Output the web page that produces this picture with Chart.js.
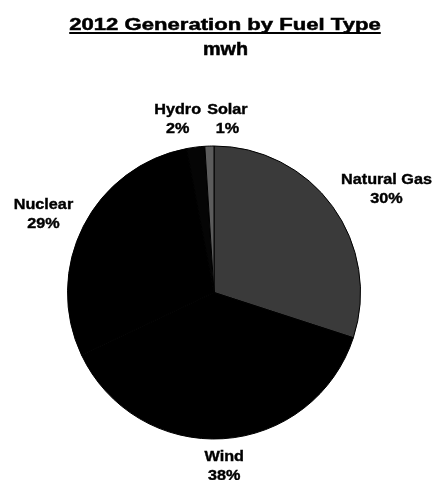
<!DOCTYPE html>
<html>
<head>
<meta charset="utf-8">
<title>2012 Generation by Fuel Type</title>
<script src="https://cdn.jsdelivr.net/npm/chart.js@4"></script>
<style>
    body { margin: 0; background: #fff; }
    canvas { display: block; }
</style>
</head>
<body>
<canvas id="graficoPizza" width="436" height="480"></canvas>
<script>
// ---- DADOS ----
const fontes = ["Natural Gas", "Wind", "Nuclear", "Hydro", "Solar"];
const percentuais = [30, 38, 29, 2, 1];
const cores = ["#3a3a3a", "#000000", "#000000", "#050505", "#5c5c5c"];

// deslocamento de cada rótulo em relação à borda da fatia
const ajusteX = [54, 1, -40, -18, 18];
const ajusteY = [-18, 26, -13, -29, -28];

const titulo = "2012 Generation by Fuel Type";
const subtitulo = "mwh";

// ---- TÍTULO SUBLINHADO ----
const pluginTitulo = {
    id: "tituloSublinhado",
    afterDraw(chart) {
        const ctx = chart.ctx;
        ctx.save();
        ctx.fillStyle = "#000";
        ctx.strokeStyle = "#000";
        ctx.lineWidth = 0.5;
        ctx.textAlign = "center";
        ctx.textBaseline = "alphabetic";

        ctx.save();
        ctx.translate(225, 30);
        ctx.scale(1.3, 1);
        ctx.font = "bold 17px 'Liberation Sans', Arial, sans-serif";
        ctx.fillText(titulo, 0, 0);
        ctx.strokeText(titulo, 0, 0);
        const largura = ctx.measureText(titulo).width;
        ctx.fillRect(-largura / 2, 2, largura, 2);
        ctx.restore();

        ctx.save();
        ctx.translate(225.5, 55);
        ctx.scale(1.1, 1);
        ctx.font = "bold 18px 'Liberation Sans', Arial, sans-serif";
        ctx.fillText(subtitulo, 0, 0);
        ctx.strokeText(subtitulo, 0, 0);
        ctx.restore();

        ctx.restore();
    }
};

// ---- RÓTULOS DAS FATIAS ----
const pluginRotulos = {
    id: "rotulosFatias",
    afterDraw(chart) {
        const ctx = chart.ctx;
        const arcos = chart.getDatasetMeta(0).data;
        ctx.save();
        ctx.fillStyle = "#000";
        ctx.strokeStyle = "#000";
        ctx.lineWidth = 0.4;
        ctx.textAlign = "center";
        ctx.textBaseline = "alphabetic";
        ctx.font = "bold 15px 'Liberation Sans', Arial, sans-serif";

        arcos.forEach((arco, i) => {
            const { x, y, startAngle, endAngle, outerRadius } = arco.getProps(["x", "y", "startAngle", "endAngle", "outerRadius"], true);
            const meio = (startAngle + endAngle) / 2;
            const cx = x + Math.cos(meio) * outerRadius + ajusteX[i];
            const cy = y + Math.sin(meio) * outerRadius + ajusteY[i];

            const linhas = [fontes[i], percentuais[i] + "%"];
            linhas.forEach((texto, j) => {
                ctx.save();
                ctx.translate(cx, cy - 4 + j * 19);
                ctx.scale(1.08, 1);
                ctx.fillText(texto, 0, 0);
                ctx.strokeText(texto, 0, 0);
                ctx.restore();
            });
        });
        ctx.restore();
    }
};

// ---- GRÁFICO ----
const ctx = document.getElementById("graficoPizza").getContext("2d");
new Chart(ctx, {
    type: "pie",
    data: {
        labels: fontes,
        datasets: [{
            data: percentuais,
            backgroundColor: cores,
            borderColor: "#000",
            borderWidth: 1
        }]
    },
    options: {
        responsive: false,
        animation: false,
        rotation: 0,
        layout: { padding: { top: 145, bottom: 40, left: 67, right: 75 } },
        plugins: {
            legend: { display: false },
            tooltip: { enabled: false },
            title: { display: false }
        }
    },
    plugins: [pluginTitulo, pluginRotulos]
});
</script>
</body>
</html>
